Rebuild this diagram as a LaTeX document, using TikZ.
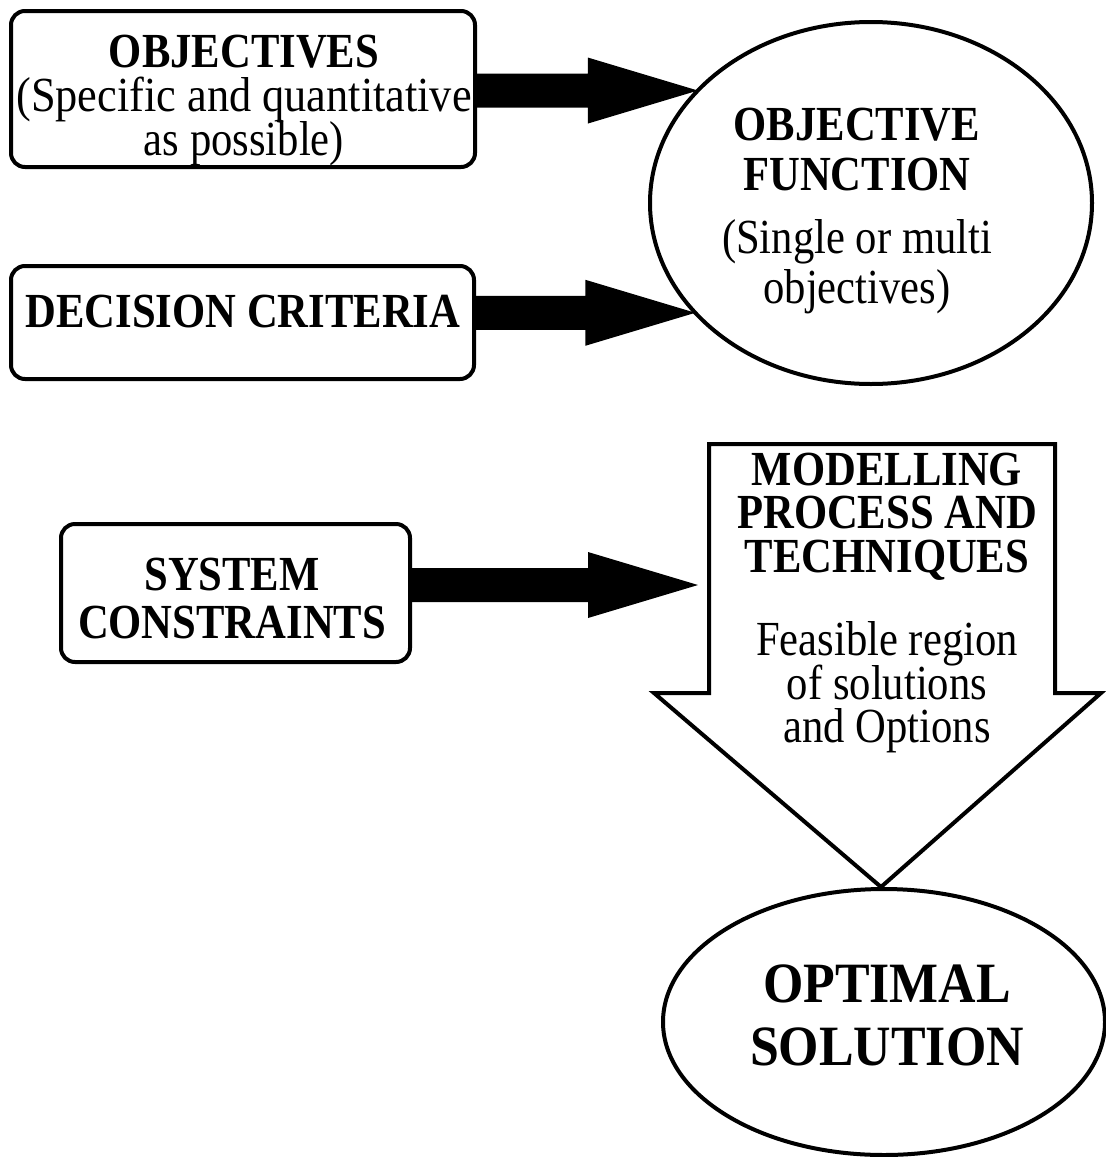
\documentclass[tikz,border=0pt]{standalone}
\usepackage{fontspec}
\setmainfont{Liberation Serif}[FakeStretch=0.87]
\newfontfamily\resultfont{Liberation Serif}[FakeStretch=0.91]
\usetikzlibrary{shapes.geometric,calc}

% centred stack of lines whose baseline is that of the first line
\newcommand\stacklines[1]{\vtop{\lineskiplimit=-1000pt\halign{\hfil##\hfil\cr#1\crcr}}}

% thick black block arrow from the side of a box to a tip point
\newcommand\blockarrow[2]{%
  \fill ($(#2 -| #1)+(0,-17)$) -- ($(#2)+(-110,-17)$) -- ($(#2)+(-110,-33)$)
    -- (#2) -- ($(#2)+(-110,33)$) -- ($(#2)+(-110,17)$) -- ($(#2 -| #1)+(0,17)$) -- cycle;}

\begin{document}
\begin{tikzpicture}[x=1pt,y=-1pt,
  every node/.style={inner sep=0pt,outer sep=0pt},
  rbox/.style={draw,line width=4pt,rounded corners=14pt},
  oval/.style={draw,ellipse,line width=4pt},
  txt/.style={anchor=base,font=\fontsize{49}{44}\selectfont},
  bigtxt/.style={anchor=base,font=\resultfont\fontsize{57}{63}\selectfont\bfseries}]

\fill[white] (0,0) rectangle (1106,1157);
\useasboundingbox (0,0) rectangle (1106,1157);

% input boxes
\node[rbox,minimum width=464pt,minimum height=156pt] (obj) at (243,89) {};
\node[rbox,minimum width=463pt,minimum height=113pt] (dec) at (242.5,322.5) {};
\node[rbox,minimum width=349pt,minimum height=138pt] (sys) at (235.5,593) {};

\node[txt] (objt) at (244,67) {\stacklines{\textbf{OBJECTIVES}\cr
  \scalebox{1.04}[1]{(Specific and quantitative}\cr as possible)}};
\node[txt] (dect) at (243,327) {\textbf{DECISION CRITERIA}};
\node[txt,font=\fontsize{49}{48}\selectfont\bfseries] (syst) at (232,590)
  {\stacklines{SYSTEM\cr CONSTRAINTS}};

% objective function
\node[oval,minimum width=442pt,minimum height=362pt] (of) at (871,203) {};
\node[txt,font=\fontsize{49}{50}\selectfont] (oft) at (857,140)
  {\stacklines{\textbf{OBJECTIVE}\cr \textbf{FUNCTION}\cr\noalign{\kern13pt}
   (Single or multi\cr objectives)}};

% modelling process: large hollow down arrow
\draw[line width=4pt,line join=miter]
  (709,444) -- (1055,444) -- (1055,693) -- (1101,693) -- (881,887)
  -- (654,693) -- (709,693) -- cycle;
\node[txt,font=\fontsize{49}{43.5}\selectfont] (mpt) at (887,485)
  {\stacklines{\textbf{MODELLING}\cr \textbf{PROCESS AND}\cr \textbf{TECHNIQUES}\cr
   \noalign{\kern40pt}
   Feasible region\cr of solutions\cr and Options}};
\coordinate (mpin) at (698,585);

% optimal solution
\node[oval,minimum width=442pt,minimum height=266pt] (opt) at (884,1022) {};
\node[bigtxt] (optt) at (887,1002) {\stacklines{OPTIMAL\cr SOLUTION}};

% block arrows
\coordinate (t1) at (of.147);
\coordinate (t2) at (of.212);
\blockarrow{obj.east}{t1}
\blockarrow{dec.east}{t2}
\blockarrow{sys.east}{mpin}
\end{tikzpicture}
\end{document}
